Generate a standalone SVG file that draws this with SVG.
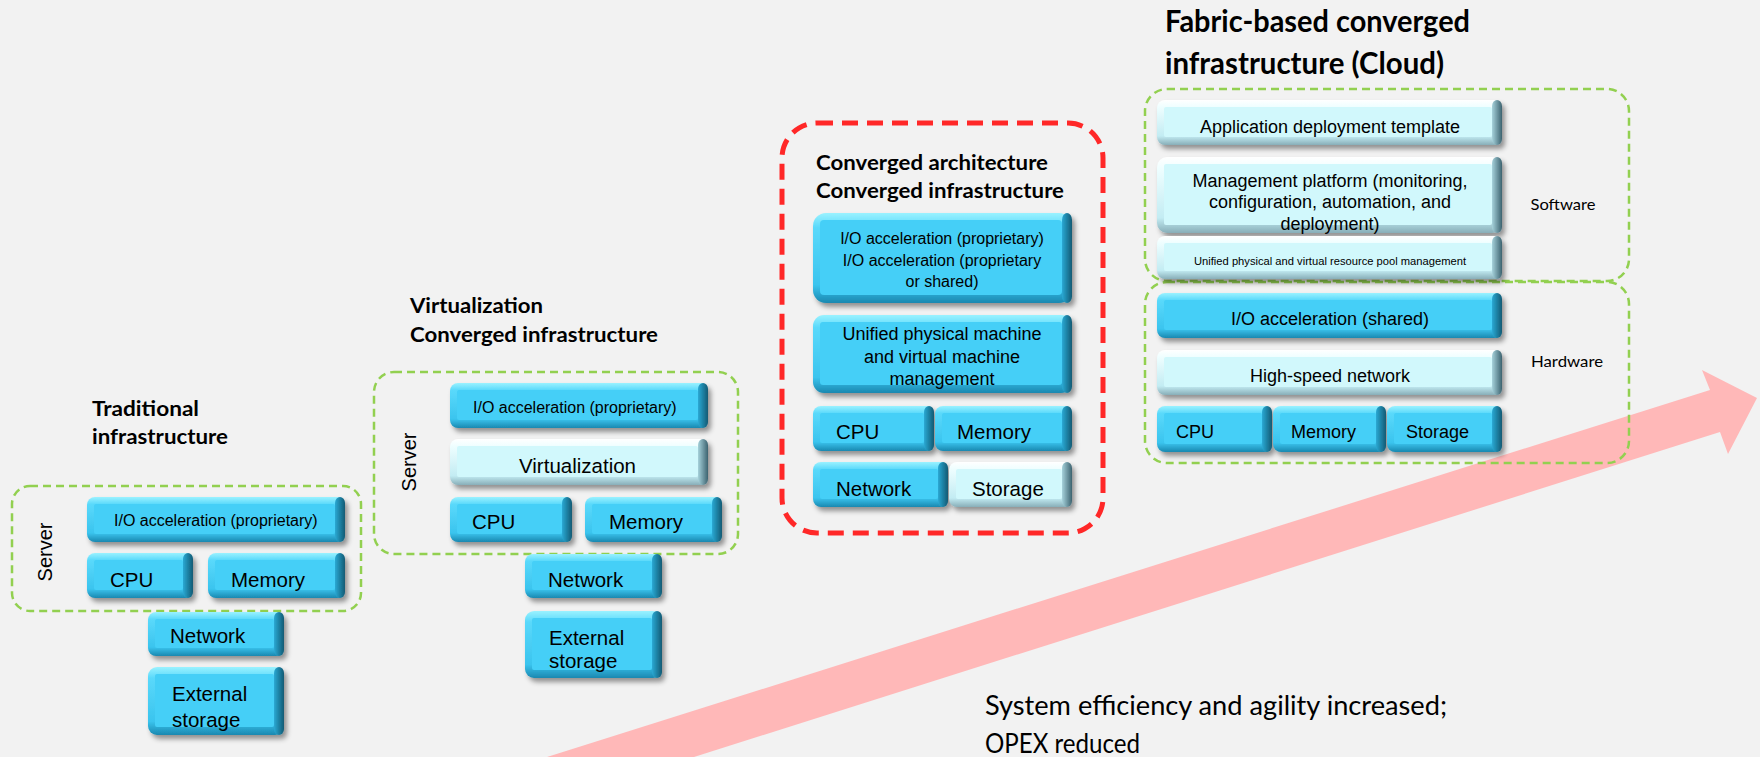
<svg xmlns="http://www.w3.org/2000/svg" width="1760" height="757" viewBox="0 0 1760 757">
<defs>
<style>
.t{font-family:"Liberation Sans",Arial,sans-serif;fill:#000}
.h{font-family:Lato,"Open Sans",sans-serif;font-weight:700;fill:#000}
.c{font-family:Lato,"Open Sans",sans-serif;fill:#000}
.gd{fill:none;stroke:#92d050;stroke-width:2.5;stroke-dasharray:8 5}
.rd{fill:none;stroke:#ff2828;stroke-width:5;stroke-dasharray:16 9}
.oc{fill:url(#gC)}
.rc{fill:url(#gCR)}
.fc{fill:#44cff7}
.ol{fill:url(#gL)}
.rl{fill:url(#gLR)}
.fl{fill:#d1f8fc}
.m{text-anchor:middle}
</style>
<linearGradient id="gC" x1="0" y1="0" x2="0" y2="1">
<stop offset="0" stop-color="#9af2ff"/><stop offset="0.16" stop-color="#5ad9fb"/><stop offset="0.8" stop-color="#3ac4ee"/><stop offset="1" stop-color="#1a88b0"/>
</linearGradient>
<linearGradient id="gCR" x1="0" y1="0" x2="1" y2="0">
<stop offset="0" stop-color="#2aa9d4"/><stop offset="1" stop-color="#115a74"/>
</linearGradient>
<linearGradient id="gL" x1="0" y1="0" x2="0" y2="1">
<stop offset="0" stop-color="#ffffff"/><stop offset="0.16" stop-color="#eefeff"/><stop offset="0.8" stop-color="#c3ecf3"/><stop offset="1" stop-color="#88aeb8"/>
</linearGradient>
<linearGradient id="gLR" x1="0" y1="0" x2="1" y2="0">
<stop offset="0" stop-color="#a6d2db"/><stop offset="1" stop-color="#3d6370"/>
</linearGradient>
<filter id="sh" x="-10%" y="-20%" width="130%" height="160%">
<feDropShadow dx="3" dy="4" stdDeviation="2.5" flood-color="#000" flood-opacity="0.4"/>
</filter>
</defs>
<rect x="0" y="0" width="1760" height="757" fill="#f2f2f2"/>

<g id="connectors">
<polygon points="547,757 1710,390 1702,370 1757,398 1728,454 1720,432 694,757" fill="#ffb8b8"/>
</g>

<g id="traditional">
<text class="h" x="92" y="416" font-size="20" textLength="107" lengthAdjust="spacingAndGlyphs">Traditional</text>
<text class="h" x="92" y="444" font-size="20" textLength="136" lengthAdjust="spacingAndGlyphs">infrastructure</text>
<rect class="gd" x="12" y="486" width="349" height="125" rx="18"/>
<text class="t m" font-size="20" transform="translate(52,552) rotate(-90)">Server</text>
<g id="trad-io" filter="url(#sh)"><rect class="oc" x="87" y="497" width="258" height="45" rx="8"/><rect class="rc" x="335" y="497" width="10" height="45" rx="6"/><rect class="fc" x="94" y="504" width="241" height="30" rx="2"/></g>
<text class="t" x="114" y="526" font-size="16">I/O acceleration (proprietary)</text>
<g id="trad-cpu" filter="url(#sh)"><rect class="oc" x="87" y="553" width="106" height="45" rx="8"/><rect class="rc" x="183" y="553" width="10" height="45" rx="6"/><rect class="fc" x="94" y="560" width="89" height="30" rx="2"/></g>
<text class="t" x="110" y="587" font-size="20.5">CPU</text>
<g id="trad-mem" filter="url(#sh)"><rect class="oc" x="208" y="553" width="137" height="45" rx="8"/><rect class="rc" x="335" y="553" width="10" height="45" rx="6"/><rect class="fc" x="215" y="560" width="120" height="30" rx="2"/></g>
<text class="t" x="231" y="587" font-size="20.5">Memory</text>
<g id="trad-net" filter="url(#sh)"><rect class="oc" x="148" y="612" width="136" height="44" rx="8"/><rect class="rc" x="274" y="612" width="10" height="44" rx="6"/><rect class="fc" x="155" y="619" width="119" height="29" rx="2"/></g>
<text class="t" x="170" y="643" font-size="20.5">Network</text>
<g id="trad-ext" filter="url(#sh)"><rect class="oc" x="148" y="667" width="136" height="68" rx="9"/><rect class="rc" x="274" y="667" width="10" height="68" rx="6"/><rect class="fc" x="155" y="674" width="119" height="53" rx="2"/></g>
<text class="t" x="172" y="701" font-size="20.5">External</text>
<text class="t" x="172" y="727" font-size="20.5">storage</text>
</g>

<g id="virtualization">
<text class="h" x="410" y="313" font-size="20" textLength="133" lengthAdjust="spacingAndGlyphs">Virtualization</text>
<text class="h" x="410" y="342" font-size="20" textLength="248" lengthAdjust="spacingAndGlyphs">Converged infrastructure</text>
<rect class="gd" x="374" y="372" width="364" height="182" rx="20"/>
<text class="t m" font-size="20" transform="translate(416,462) rotate(-90)">Server</text>
<g id="virt-io" filter="url(#sh)"><rect class="oc" x="450" y="383" width="258" height="45" rx="8"/><rect class="rc" x="698" y="383" width="10" height="45" rx="6"/><rect class="fc" x="457" y="390" width="241" height="30" rx="2"/></g>
<text class="t" x="473" y="413" font-size="16">I/O acceleration (proprietary)</text>
<g id="virt-virt" filter="url(#sh)"><rect class="ol" x="450" y="439" width="258" height="46" rx="8"/><rect class="rl" x="698" y="439" width="10" height="46" rx="6"/><rect class="fl" x="457" y="446" width="241" height="31" rx="2"/></g>
<text class="t" x="519" y="473" font-size="20.5">Virtualization</text>
<g id="virt-cpu" filter="url(#sh)"><rect class="oc" x="450" y="497" width="122" height="45" rx="8"/><rect class="rc" x="562" y="497" width="10" height="45" rx="6"/><rect class="fc" x="457" y="504" width="105" height="30" rx="2"/></g>
<text class="t" x="472" y="529" font-size="20.5">CPU</text>
<g id="virt-mem" filter="url(#sh)"><rect class="oc" x="585" y="497" width="137" height="45" rx="8"/><rect class="rc" x="712" y="497" width="10" height="45" rx="6"/><rect class="fc" x="592" y="504" width="120" height="30" rx="2"/></g>
<text class="t" x="609" y="529" font-size="20.5">Memory</text>
<g id="virt-net" filter="url(#sh)"><rect class="oc" x="525" y="554" width="137" height="44" rx="8"/><rect class="rc" x="652" y="554" width="10" height="44" rx="6"/><rect class="fc" x="532" y="561" width="120" height="29" rx="2"/></g>
<text class="t" x="548" y="587" font-size="20.5">Network</text>
<g id="virt-ext" filter="url(#sh)"><rect class="oc" x="525" y="611" width="137" height="67" rx="9"/><rect class="rc" x="652" y="611" width="10" height="67" rx="6"/><rect class="fc" x="532" y="618" width="120" height="52" rx="2"/></g>
<text class="t" x="549" y="645" font-size="20.5">External</text>
<text class="t" x="549" y="668" font-size="20.5">storage</text>
</g>

<g id="converged">
<rect class="rd" x="782" y="123" width="321" height="410" rx="35"/>
<text class="h" x="816" y="170" font-size="20" textLength="232" lengthAdjust="spacingAndGlyphs">Converged architecture</text>
<text class="h" x="816" y="198" font-size="20" textLength="248" lengthAdjust="spacingAndGlyphs">Converged infrastructure</text>
<g id="conv-io" filter="url(#sh)"><rect class="oc" x="813" y="213" width="259" height="90" rx="13"/><rect class="rc" x="1062" y="213" width="10" height="90" rx="7"/><rect class="fc" x="820" y="220" width="242" height="75" rx="4"/></g>
<text class="t m" x="942" y="244" font-size="16">I/O acceleration (proprietary)</text>
<text class="t m" x="942" y="266" font-size="16">I/O acceleration (proprietary</text>
<text class="t m" x="942" y="287" font-size="16">or shared)</text>
<g id="conv-uni" filter="url(#sh)"><rect class="oc" x="813" y="315" width="259" height="78" rx="11"/><rect class="rc" x="1062" y="315" width="10" height="78" rx="7"/><rect class="fc" x="820" y="322" width="242" height="63" rx="3"/></g>
<text class="t m" x="942" y="340" font-size="18">Unified physical machine</text>
<text class="t m" x="942" y="363" font-size="18">and virtual machine</text>
<text class="t m" x="942" y="385" font-size="18">management</text>
<g id="conv-cpu" filter="url(#sh)"><rect class="oc" x="813" y="406" width="121" height="45" rx="8"/><rect class="rc" x="924" y="406" width="10" height="45" rx="6"/><rect class="fc" x="820" y="413" width="104" height="30" rx="2"/></g>
<text class="t" x="836" y="439" font-size="20.5">CPU</text>
<g id="conv-mem" filter="url(#sh)"><rect class="oc" x="935" y="406" width="137" height="45" rx="8"/><rect class="rc" x="1062" y="406" width="10" height="45" rx="6"/><rect class="fc" x="942" y="413" width="120" height="30" rx="2"/></g>
<text class="t" x="957" y="439" font-size="20.5">Memory</text>
<g id="conv-net" filter="url(#sh)"><rect class="oc" x="813" y="462" width="135" height="45" rx="8"/><rect class="rc" x="938" y="462" width="10" height="45" rx="6"/><rect class="fc" x="820" y="469" width="118" height="30" rx="2"/></g>
<text class="t" x="836" y="496" font-size="20.5">Network</text>
<g id="conv-stor" filter="url(#sh)"><rect class="ol" x="949" y="462" width="123" height="45" rx="8"/><rect class="rl" x="1062" y="462" width="10" height="45" rx="6"/><rect class="fl" x="956" y="469" width="106" height="30" rx="2"/></g>
<text class="t" x="972" y="496" font-size="20.5">Storage</text>
</g>

<g id="fabric">
<text class="h" x="1165" y="32" font-size="30" textLength="305" lengthAdjust="spacingAndGlyphs">Fabric-based converged</text>
<text class="h" x="1165" y="74" font-size="30" textLength="279" lengthAdjust="spacingAndGlyphs">infrastructure (Cloud)</text>
<rect class="gd" x="1145" y="89" width="484" height="192" rx="22"/>
<rect class="gd" x="1145" y="282" width="484" height="181" rx="22"/>
<text class="c m" x="1563" y="210" font-size="16" textLength="65" lengthAdjust="spacingAndGlyphs">Software</text>
<text class="c m" x="1567" y="367" font-size="16" textLength="72" lengthAdjust="spacingAndGlyphs">Hardware</text>
<g id="fab-app" filter="url(#sh)"><rect class="ol" x="1157" y="100" width="345" height="45" rx="8"/><rect class="rl" x="1492" y="100" width="10" height="45" rx="6"/><rect class="fl" x="1164" y="107" width="328" height="30" rx="2"/></g>
<text class="t m" x="1330" y="133" font-size="18">Application deployment template</text>
<g id="fab-mgmt" filter="url(#sh)"><rect class="ol" x="1157" y="157" width="345" height="76" rx="10"/><rect class="rl" x="1492" y="157" width="10" height="76" rx="6"/><rect class="fl" x="1164" y="164" width="328" height="61" rx="2"/></g>
<text class="t m" x="1330" y="187" font-size="18">Management platform (monitoring,</text>
<text class="t m" x="1330" y="208" font-size="18">configuration, automation, and</text>
<text class="t m" x="1330" y="230" font-size="18">deployment)</text>
<g id="fab-pool" filter="url(#sh)"><rect class="ol" x="1157" y="236" width="345" height="43" rx="8"/><rect class="rl" x="1492" y="236" width="10" height="43" rx="6"/><rect class="fl" x="1164" y="243" width="328" height="28" rx="2"/></g>
<text class="t m" x="1330" y="265" font-size="11.5" textLength="272" lengthAdjust="spacingAndGlyphs">Unified physical and virtual resource pool management</text>
<g id="fab-io" filter="url(#sh)"><rect class="oc" x="1157" y="293" width="345" height="45" rx="8"/><rect class="rc" x="1492" y="293" width="10" height="45" rx="6"/><rect class="fc" x="1164" y="300" width="328" height="30" rx="2"/></g>
<text class="t m" x="1330" y="325" font-size="18">I/O acceleration (shared)</text>
<g id="fab-hsn" filter="url(#sh)"><rect class="ol" x="1157" y="350" width="345" height="45" rx="8"/><rect class="rl" x="1492" y="350" width="10" height="45" rx="6"/><rect class="fl" x="1164" y="357" width="328" height="30" rx="2"/></g>
<text class="t m" x="1330" y="382" font-size="18">High-speed network</text>
<g id="fab-cpu" filter="url(#sh)"><rect class="oc" x="1157" y="406" width="115" height="46" rx="8"/><rect class="rc" x="1262" y="406" width="10" height="46" rx="6"/><rect class="fc" x="1164" y="413" width="98" height="31" rx="2"/></g>
<text class="t" x="1176" y="438" font-size="18">CPU</text>
<g id="fab-mem" filter="url(#sh)"><rect class="oc" x="1273" y="406" width="113" height="46" rx="8"/><rect class="rc" x="1376" y="406" width="10" height="46" rx="6"/><rect class="fc" x="1280" y="413" width="96" height="31" rx="2"/></g>
<text class="t" x="1291" y="438" font-size="18">Memory</text>
<g id="fab-stor" filter="url(#sh)"><rect class="oc" x="1387" y="406" width="115" height="46" rx="8"/><rect class="rc" x="1492" y="406" width="10" height="46" rx="6"/><rect class="fc" x="1394" y="413" width="98" height="31" rx="2"/></g>
<text class="t" x="1406" y="438" font-size="18">Storage</text>
</g>

<g id="caption">
<text class="c" x="985" y="715" font-size="26" textLength="462" lengthAdjust="spacingAndGlyphs">System efficiency and agility increased;</text>
<text class="c" x="985" y="753" font-size="26" textLength="155" lengthAdjust="spacingAndGlyphs">OPEX reduced</text>
</g>
</svg>
